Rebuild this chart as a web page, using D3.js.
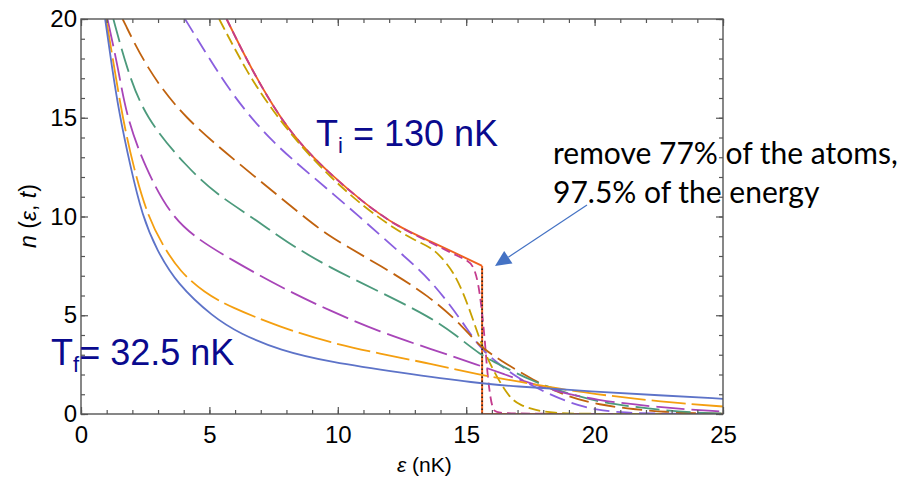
<!DOCTYPE html>
<html>
<head>
<meta charset="utf-8">
<script src="https://cdn.jsdelivr.net/npm/d3@7"></script>
<style>
  body { margin: 0; background: #fff; }
  svg { display: block; }
</style>
</head>
<body>
<svg width="911" height="488"></svg>
<script>
// n(eps, t), one [eps, n] list per curve (final -> initial)
var finalBlue   = [[0.94,20],[1.2,17.6],[1.49,15.2],[1.91,12.6],[2.39,10],[2.95,8.3],[3.73,6.6],[5.15,4.9],[6.19,4.07],[7.75,3.22],[9.7,2.63],[12.4,2.1],[15.5,1.55],[16.7,1.42],[20,1.13],[22.5,0.95],[25,0.77]];
var orangeN     = [[0.98,20],[1.3,17.5],[1.62,15],[2.04,12.5],[2.6,10],[3.2,8.5],[3.86,7.2],[4.8,6.15],[5.8,5.42],[7.75,4.4],[9.7,3.61],[11.65,3.05],[13.6,2.55],[15.54,1.98],[16.7,1.72],[18,1.42],[19,1.2],[20,1.02],[21.5,0.78],[23.4,0.53],[25,0.38]];
var magentaN    = [[1.03,20],[1.45,17.5],[1.78,15],[2.49,12.5],[3.5,10],[4.6,8.8],[5.8,7.86],[7.75,6.43],[9.7,5.22],[11.65,4.15],[13.6,3.3],[15.54,2.45],[16.5,2.0],[17.5,1.55],[18.5,1.15],[20,0.71],[22.5,0.33],[25,0.12]];
var greenN      = [[1.26,20],[1.78,17.5],[2.49,15],[4.12,12.5],[5.3,11.1],[6.63,10],[8.0,8.7],[9.7,7.4],[11.65,6.18],[13.6,4.91],[14.6,4.0],[15.54,3.0],[16.32,2.48],[17.6,1.64],[18.92,1.05],[20.2,0.6],[21.5,0.37],[22.8,0.17],[24.1,0.06],[25,0.03]];
var brownN      = [[1.62,20],[2.56,17.5],[3.99,15],[6.32,12.5],[8.66,10],[9.7,8.95],[11.65,7.53],[13.6,5.95],[14.9,4.4],[15.54,3.4],[16.32,2.73],[17.6,1.72],[18.9,0.88],[20.2,0.46],[21.5,0.24],[22.8,0.1],[24,0.04],[25,0.02]];
var violetN     = [[4.05,20],[4.64,18.75],[5.93,16.05],[7.49,13.69],[9.05,12.0],[10.87,9.97],[12.3,8.3],[13.6,6.85],[14.9,4.6],[15.54,3.3],[16.4,2.4],[17.0,1.85],[17.75,1.3],[19.05,0.54],[20.1,0.2],[21,0.08],[22,0.02],[25,0]];
var oliveN      = [[5.38,20],[6.5,17.2],[7.5,15.3],[8.5,13.65],[9.7,12.0],[11.0,10.5],[12.3,9.3],[13.0,8.8],[13.6,8.45],[14.0,8.0],[14.5,7.2],[14.9,6.1],[15.28,4.74],[15.67,3.22],[16.19,1.87],[16.7,0.8],[17.1,0.45],[17.7,0.18],[18.4,0.05],[19.5,0],[25,0]];
var pinkN       = [[5.67,20],[6.5,17.8],[7.5,15.5],[8.5,13.7],[9.7,12.15],[11.0,10.7],[12.3,9.5],[13.6,8.7],[14.5,8.1],[15.0,7.8],[15.28,7.55],[15.48,6.6],[15.61,5.25],[15.74,3.56],[15.8,2.4],[15.93,0.86],[16.06,0.1],[16.3,0],[25,0]];
var initialRed  = [[5.67,20],[6.5,17.8],[7.5,15.5],[8.5,13.7],[9.7,12.15],[11.0,10.7],[12.3,9.5],[13.6,8.75],[14.9,7.95],[15.62,7.5]];
var cutEps = 15.62, cutN = 7.5;

var xTicks = [0, 5, 10, 15, 20, 25];
var yTicks = [0, 5, 10, 15, 20];

var svg = d3.select("svg");
var x = d3.scaleLinear().domain([0, 25]).range([81, 723]);
var y = d3.scaleLinear().domain([0, 20]).range([414, 19]);

svg.append("defs").append("clipPath").attr("id", "plot")
  .append("rect").attr("x", 81).attr("y", 19).attr("width", 642).attr("height", 395);

var line = d3.line()
  .x(function(d) { return x(d[0]); })
  .y(function(d) { return y(d[1]); })
  .curve(d3.curveBasis);

var curves = [
  { data: initialRed, color: "#F0621E", dash: null },
  { data: pinkN,      color: "#C43C8E", dash: "9,5" },
  { data: oliveN,     color: "#C8A100", dash: "12,5" },
  { data: violetN,    color: "#8A5FDF", dash: "16,7" },
  { data: brownN,     color: "#C0620E", dash: "20,7" },
  { data: greenN,     color: "#4C9A7C", dash: "24,7" },
  { data: magentaN,   color: "#A845B8", dash: "28,7" },
  { data: orangeN,    color: "#F49F10", dash: "34,6" },
  { data: finalBlue,  color: "#5D73C8", dash: null }
];

var g = svg.append("g").attr("clip-path", "url(#plot)");

// cutoff of the initial distribution
g.append("path")
  .attr("d", d3.line().x(function(d) { return x(d[0]); }).y(function(d) { return y(d[1]); })([[cutEps, cutN], [cutEps, 0], [25, 0]]))
  .attr("fill", "none").attr("stroke", "#F0621E").attr("stroke-width", 2);

curves.forEach(function(c) {
  g.append("path")
    .attr("d", line(c.data))
    .attr("fill", "none")
    .attr("stroke", c.color)
    .attr("stroke-width", 1.8)
    .attr("stroke-dasharray", c.dash);
});

g.append("line")
  .attr("x1", x(cutEps)).attr("x2", x(cutEps))
  .attr("y1", y(0)).attr("y2", y(cutN))
  .attr("stroke", "#222").attr("stroke-width", 1.5)
  .attr("stroke-dasharray", "1.5,2.5");

// frame with inward ticks on every side
function frameAxis(axis, tx, ty, labels) {
  var a = svg.append("g").attr("transform", "translate(" + tx + "," + ty + ")").call(axis);
  a.select(".domain").remove();
  a.selectAll("line").attr("stroke", "#555").attr("stroke-width", 1.2);
  a.selectAll("text").attr("font-family", "'Liberation Sans', Arial, sans-serif").attr("font-size", 24).attr("fill", "#000");
  if (!labels) a.selectAll("text").remove();
  return a;
}
var minorX = d3.range(0, 26, 1), minorY = d3.range(0, 21, 1);
frameAxis(d3.axisBottom(x).tickValues(minorX).tickSize(-4).tickFormat(""), 0, 414, false);
frameAxis(d3.axisBottom(x).tickValues(xTicks).tickSize(-7).tickPadding(12).tickFormat(d3.format("d")), 0, 414, true);
frameAxis(d3.axisTop(x).tickValues(minorX).tickSize(-4).tickFormat(""), 0, 19, false);
frameAxis(d3.axisTop(x).tickValues(xTicks).tickSize(-7).tickFormat(""), 0, 19, false);
frameAxis(d3.axisLeft(y).tickValues(minorY).tickSize(-4).tickFormat(""), 81, 0, false);
frameAxis(d3.axisLeft(y).tickValues(yTicks).tickSize(-7).tickPadding(4).tickFormat(d3.format("d")), 81, 0, true);
frameAxis(d3.axisRight(y).tickValues(minorY).tickSize(-4).tickFormat(""), 723, 0, false);
frameAxis(d3.axisRight(y).tickValues(yTicks).tickSize(-7).tickFormat(""), 723, 0, false);

svg.append("rect")
  .attr("x", 81).attr("y", 19).attr("width", 642).attr("height", 395)
  .attr("fill", "none").attr("stroke", "#555").attr("stroke-width", 1.4);

// axis titles
var xt = svg.append("text").attr("x", 397).attr("y", 472)
  .attr("font-family", "'Liberation Sans', Arial, sans-serif").attr("font-size", 21).attr("fill", "#000");
xt.append("tspan").attr("font-style", "italic").text("ε");
xt.append("tspan").text(" (nK)");

var yt = svg.append("text").attr("transform", "translate(36,216) rotate(-90)")
  .attr("text-anchor", "middle")
  .attr("font-family", "'Liberation Sans', Arial, sans-serif").attr("font-size", 23).attr("fill", "#000");
yt.append("tspan").attr("font-style", "italic").text("n");
yt.append("tspan").text(" (");
yt.append("tspan").attr("font-style", "italic").text("ε");
yt.append("tspan").text(", ");
yt.append("tspan").attr("font-style", "italic").text("t");
yt.append("tspan").text(")");

// temperature labels
function tempLabel(px, py, sub, rest) {
  var t = svg.append("text").attr("x", px).attr("y", py)
    .attr("font-family", "'Liberation Sans', Arial, sans-serif").attr("font-size", 36).attr("fill", "#0A0A8E");
  t.append("tspan").text("T");
  t.append("tspan").attr("font-size", 22).attr("dy", 7).text(sub);
  t.append("tspan").attr("dy", -7).text(rest);
}
tempLabel(316, 146, "i", " = 130 nK");
tempLabel(51, 365, "f", "= 32.5 nK");

// annotation + arrow
svg.append("text").attr("x", 553).attr("y", 164)
  .attr("font-family", "Lato, sans-serif").attr("font-size", 30).attr("fill", "#000")
  .text("remove 77% of the atoms,");
svg.append("text").attr("x", 553).attr("y", 203)
  .attr("font-family", "Lato, sans-serif").attr("font-size", 30).attr("fill", "#000")
  .text("97.5% of the energy");

var a0 = [587, 205], a1 = [495, 266];
var dx = a1[0] - a0[0], dy = a1[1] - a0[1], len = Math.sqrt(dx * dx + dy * dy);
var ux = dx / len, uy = dy / len, hl = 16, hw = 7.5;
svg.append("line")
  .attr("x1", a0[0]).attr("y1", a0[1])
  .attr("x2", a1[0] - ux * hl).attr("y2", a1[1] - uy * hl)
  .attr("stroke", "#4472C4").attr("stroke-width", 1.2);
svg.append("path")
  .attr("d", "M" + a1[0] + "," + a1[1] +
    "L" + (a1[0] - ux * hl - uy * hw) + "," + (a1[1] - uy * hl + ux * hw) +
    "L" + (a1[0] - ux * hl + uy * hw) + "," + (a1[1] - uy * hl - ux * hw) + "Z")
  .attr("fill", "#4472C4");
</script>
</body>
</html>
